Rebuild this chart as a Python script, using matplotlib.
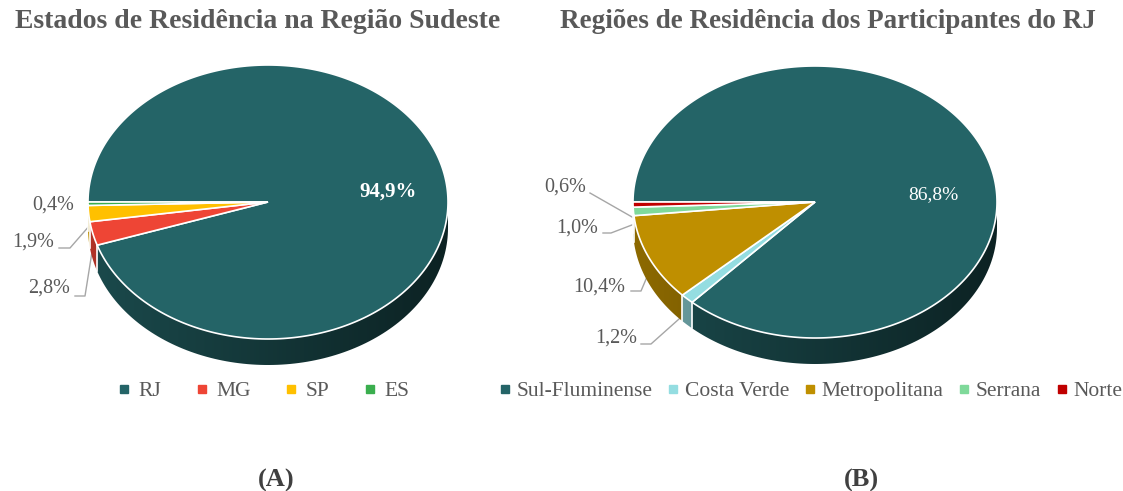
import numpy as np
import matplotlib
matplotlib.use("Agg")
import matplotlib.pyplot as plt
import matplotlib.colors as mcolors
from matplotlib.patches import Polygon
from matplotlib.lines import Line2D

plt.rcParams['font.family'] = ['Liberation Serif', 'DejaVu Serif']

# (A) estados da regiao sudeste
estados = ['RJ', 'MG', 'SP', 'ES']
estados_pct = [94.9, 2.8, 1.9, 0.4]
estados_cores = ['#246467', '#ee4535', '#ffc000', '#3aae4e']

# (B) regioes do RJ
regioes = ['Sul-Fluminense', 'Costa Verde', 'Metropolitana', 'Serrana', 'Norte']
regioes_pct = [86.8, 1.2, 10.4, 1.0, 0.6]
regioes_cores = ['#246467', '#94dde1', '#bf8f00', '#7fd99a', '#c00000']

W, H = 1123, 491
GRAY = '#595959'
LEAD = '#a6a6a6'


def arc(cx, cy, rx, ry, t0, t1, n):
    t = np.radians(np.linspace(t0, t1, n))
    return np.column_stack([cx + rx * np.cos(t), cy - ry * np.sin(t)])


def pie3d(ax, cx, cy, rx, ry, depth, values, colors):
    """excel-like 3d pie, first slice starts at 9 o'clock going clockwise"""
    fr = np.asarray(values, float) / np.sum(values)
    ends = 180 - 360 * np.cumsum(fr)
    starts = np.r_[180, ends[:-1]]
    xs = np.linspace(0, 1, 256)
    shade = 0.74 - 0.40 * xs
    # side walls (only the front half is visible), shaded left -> right
    for a0, a1, c in zip(starts, ends, colors):
        for k in (-1, 0, 1):
            lo = max(a1, -180 + 360 * k)
            hi = min(a0, 360 * k)
            if hi <= lo:
                continue
            top = arc(cx, cy, rx, ry, lo, hi, 120)
            bot = top[::-1] + [0, depth]
            wall = Polygon(np.vstack([top, bot]), closed=True, fc='none',
                           ec='none')
            ax.add_patch(wall)
            grad = np.array(mcolors.to_rgb(c))[None, None, :] * shade[None, :, None]
            im = ax.imshow(grad, extent=(cx - rx, cx + rx, cy + ry + depth + 2, cy - 2),
                           aspect='auto', interpolation='bilinear', zorder=2)
            im.set_clip_path(wall)
    for a in ends:
        if np.sin(np.radians(a)) < -1e-6:
            p = arc(cx, cy, rx, ry, a, a, 1)[0]
            ax.plot([p[0], p[0]], [p[1], p[1] + depth], color='white',
                    lw=1.2, zorder=3)
    # top faces
    for a0, a1, c in zip(starts, ends, colors):
        pts = np.vstack([[cx, cy], arc(cx, cy, rx, ry, a0, a1, 300)])
        ax.add_patch(Polygon(pts, closed=True, fc=c, ec='white', lw=1.2,
                             zorder=4))
    mids = (starts + ends) / 2
    anchors = [arc(cx, cy, rx, ry, m, m, 1)[0] + [0, depth * 0.5] for m in mids]
    return anchors


def fmt(v):
    return f'{v:.1f}'.replace('.', ',') + '%'


fig = plt.figure(figsize=(W / 100, H / 100), dpi=100)
ax = fig.add_axes([0, 0, 1, 1])
ax.axis('off')

# ---------- (A)
ax.text(258, 28, 'Estados de Residência na Região Sudeste', ha='center',
        va='baseline', fontsize=20, fontweight='bold', color=GRAY)
anc = pie3d(ax, 268, 202, 180, 137, 26, estados_pct, estados_cores)
ax.text(388, 192, fmt(estados_pct[0]), ha='center', va='center',
        fontsize=15, fontweight='bold', color='white', zorder=6)
# MG
ax.text(70, 288, fmt(estados_pct[1]), ha='right', va='center', fontsize=14.5, color=GRAY)
ax.plot([75, 85, anc[1][0]], [296, 296, anc[1][1]], color=LEAD, lw=1, zorder=1)
# SP
ax.text(54, 242, fmt(estados_pct[2]), ha='right', va='center', fontsize=14.5, color=GRAY)
ax.plot([59, 70, anc[2][0]], [248, 248, anc[2][1]], color=LEAD, lw=1, zorder=1)
# ES
ax.text(74, 205, fmt(estados_pct[3]), ha='right', va='center', fontsize=14.5, color=GRAY)

h1 = [Line2D([], [], ls='', marker='s', markersize=6, color=c) for c in estados_cores]
leg1 = ax.legend(h1, estados, loc='center', bbox_to_anchor=(264, 391),
                 bbox_transform=ax.transData, ncol=4, frameon=False,
                 fontsize=15.5, handlelength=0.5, handletextpad=0.4,
                 columnspacing=1.65, labelcolor=GRAY)
ax.add_artist(leg1)

# ---------- (B)
ax.text(828, 28, 'Regiões de Residência dos Participantes do RJ', ha='center',
        va='baseline', fontsize=19.5, fontweight='bold', color=GRAY)
anc = pie3d(ax, 815, 202, 182, 136, 26, regioes_pct, regioes_cores)
ax.text(933, 195, fmt(regioes_pct[0]), ha='center', va='center',
        fontsize=14, color='white', zorder=6)
# Costa Verde
ax.text(637, 338, fmt(regioes_pct[1]), ha='right', va='center', fontsize=14.5, color=GRAY)
ax.plot([641, 651, anc[1][0]], [344, 344, anc[1][1]], color=LEAD, lw=1, zorder=1)
# Metropolitana
ax.text(625, 287, fmt(regioes_pct[2]), ha='right', va='center', fontsize=14.5, color=GRAY)
ax.plot([631, 641, anc[2][0]], [291, 291, anc[2][1]], color=LEAD, lw=1, zorder=1)
# Serrana
ax.text(598, 228, fmt(regioes_pct[3]), ha='right', va='center', fontsize=14.5, color=GRAY)
ax.plot([603, 611, anc[3][0]], [233, 233, anc[3][1]], color=LEAD, lw=1, zorder=1)
# Norte
ax.text(586, 187, fmt(regioes_pct[4]), ha='right', va='center', fontsize=14.5, color=GRAY)
ax.plot([590, anc[4][0]], [193, anc[4][1]], color=LEAD, lw=1, zorder=1)

h2 = [Line2D([], [], ls='', marker='s', markersize=6, color=c) for c in regioes_cores]
ax.legend(h2, regioes, loc='center', bbox_to_anchor=(811, 391),
          bbox_transform=ax.transData, ncol=5, frameon=False,
          fontsize=15.5, handlelength=0.5, handletextpad=0.3,
          columnspacing=0.7, labelcolor=GRAY)

ax.text(276, 480, '(A)', ha='center', va='center', fontsize=19,
        fontweight='bold', color='#404040')
ax.text(861, 480, '(B)', ha='center', va='center', fontsize=19,
        fontweight='bold', color='#404040')

ax.set_aspect('auto')
ax.set_xlim(0, W)
ax.set_ylim(H, 0)

fig.savefig('out.png', dpi=100)
